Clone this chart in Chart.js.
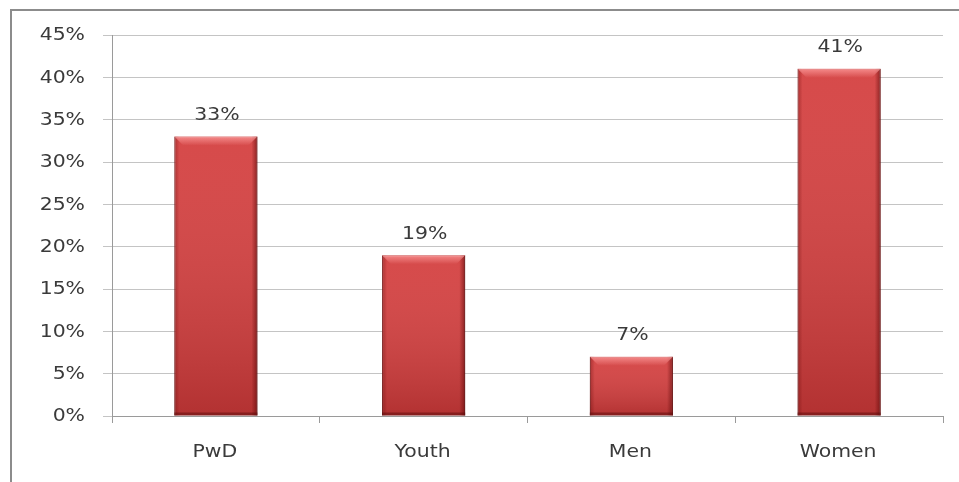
<!DOCTYPE html>
<html>
<head>
<meta charset="utf-8">
<script src="https://cdn.jsdelivr.net/npm/chart.js@4/dist/chart.umd.min.js"></script>
<style>
  html, body { margin: 0; padding: 0; background: #fff; }
  #wrap { width: 959px; height: 482px; position: relative; }
</style>
</head>
<body>
<div id="wrap"><canvas id="groups-chart" width="959" height="482"></canvas></div>
<script>
// chart data
var categories = ['PwD', 'Youth', 'Men', 'Women'];
var shares = [33, 19, 7, 41];
var yTicks = [0, 5, 10, 15, 20, 25, 30, 35, 40, 45];

var textColor = '#3a3a3a';
var fontFamily = '"DejaVu Sans", Verdana, sans-serif';
var stretch = 1.2; // the original text looks widened

function stretchedText(ctx, text, x, y, align) {
    ctx.save();
    ctx.translate(x, y);
    ctx.scale(stretch, 1);
    ctx.fillStyle = textColor;
    ctx.font = '17px ' + fontFamily;
    ctx.textAlign = align;
    ctx.textBaseline = 'middle';
    ctx.fillText(text, 0, 0);
    ctx.restore();
}

// outer frame (left and top edges visible only)
var framePlugin = {
    id: 'frame',
    beforeDraw: function (chart) {
        var ctx = chart.ctx;
        ctx.save();
        ctx.strokeStyle = '#8c8c8c';
        ctx.lineWidth = 2;
        ctx.beginPath();
        ctx.moveTo(11, chart.height);
        ctx.lineTo(11, 10);
        ctx.lineTo(chart.width, 10);
        ctx.stroke();
        ctx.restore();
    }
};

// tick labels drawn by hand so they can be widened
var labelsPlugin = {
    id: 'wideLabels',
    afterDraw: function (chart) {
        var ctx = chart.ctx;
        var xs = chart.scales.x;
        var ys = chart.scales.y;
        yTicks.forEach(function (v) {
            stretchedText(ctx, v + '%', ys.left + 85, ys.getPixelForValue(v) + 1, 'right');
        });
        categories.forEach(function (c, i) {
            stretchedText(ctx, c, xs.getPixelForValue(i) - 1, xs.top + 37, 'center');
        });
    }
};

// shading on the bars + value labels
var barLookPlugin = {
    id: 'barLook',
    afterDatasetsDraw: function (chart) {
        var ctx = chart.ctx;
        var meta = chart.getDatasetMeta(0);
        ctx.save();
        meta.data.forEach(function (bar, i) {
            var w = bar.width;
            var left = bar.x - w / 2;
            var right = bar.x + w / 2;
            var top = bar.y;
            var bottom = bar.base;
            var h = bottom - top;

            // vertical shading, darker to the bottom
            var g = ctx.createLinearGradient(0, top, 0, bottom);
            g.addColorStop(0, 'rgba(255,255,255,0.06)');
            g.addColorStop(1, 'rgba(60,0,0,0.22)');
            ctx.fillStyle = g;
            ctx.fillRect(left, top, w, h);

            // dark right edge
            var gr = ctx.createLinearGradient(right - 6, 0, right, 0);
            gr.addColorStop(0, 'rgba(80,0,0,0)');
            gr.addColorStop(1, 'rgba(80,0,0,0.55)');
            ctx.fillStyle = gr;
            ctx.fillRect(right - 6, top, 6, h);

            // slight left edge
            var gl = ctx.createLinearGradient(left, 0, left + 5, 0);
            gl.addColorStop(0, 'rgba(90,0,0,0.35)');
            gl.addColorStop(1, 'rgba(90,0,0,0)');
            ctx.fillStyle = gl;
            ctx.fillRect(left, top, 5, h);

            // top bevel highlight
            var gt = ctx.createLinearGradient(0, top, 0, top + 9);
            gt.addColorStop(0, 'rgba(255,160,160,0.75)');
            gt.addColorStop(1, 'rgba(255,160,160,0)');
            ctx.fillStyle = gt;
            ctx.beginPath();
            ctx.moveTo(left, top);
            ctx.lineTo(right, top);
            ctx.lineTo(right - 9, top + 9);
            ctx.lineTo(left + 9, top + 9);
            ctx.closePath();
            ctx.fill();

            // bottom shadow line
            ctx.fillStyle = 'rgba(90,10,10,0.5)';
            ctx.fillRect(left, bottom - 3, w, 3);
        });
        ctx.restore();
        meta.data.forEach(function (bar, i) {
            stretchedText(ctx, shares[i] + '%', bar.x + 1, bar.y - 21, 'center');
        });
    }
};

var ctx = document.getElementById('groups-chart').getContext('2d');

var groupsChart = new Chart(ctx, {
    type: 'bar',
    data: {
        labels: categories,
        datasets: [
            {
                data: shares,
                backgroundColor: '#d43f3f',
                borderColor: '#8a2020',
                borderWidth: 1,
                barPercentage: 0.5,
                categoryPercentage: 0.8
            }
        ]
    },
    options: {
        responsive: false,
        animation: false,
        layout: {
            padding: { left: 0, top: 35, right: 16, bottom: 0 }
        },
        plugins: {
            legend: { display: false },
            tooltip: { enabled: false }
        },
        scales: {
            x: {
                grid: {
                    display: true,
                    drawOnChartArea: false,
                    drawTicks: true,
                    tickLength: 7,
                    color: '#9a9a9a',
                    offset: true
                },
                border: { display: true, color: '#9a9a9a' },
                ticks: { display: false },
                afterFit: function (scale) { scale.height = 66; }
            },
            y: {
                min: 0,
                max: 45,
                afterBuildTicks: function (scale) {
                    scale.ticks = yTicks.map(function (v) { return { value: v }; });
                },
                grid: {
                    color: '#c4c4c4',
                    tickLength: 9,
                    drawTicks: true
                },
                border: { display: true, color: '#9a9a9a' },
                ticks: { display: false },
                afterFit: function (scale) { scale.width = 112; }
            }
        }
    },
    plugins: [framePlugin, barLookPlugin, labelsPlugin]
});
</script>
</body>
</html>
